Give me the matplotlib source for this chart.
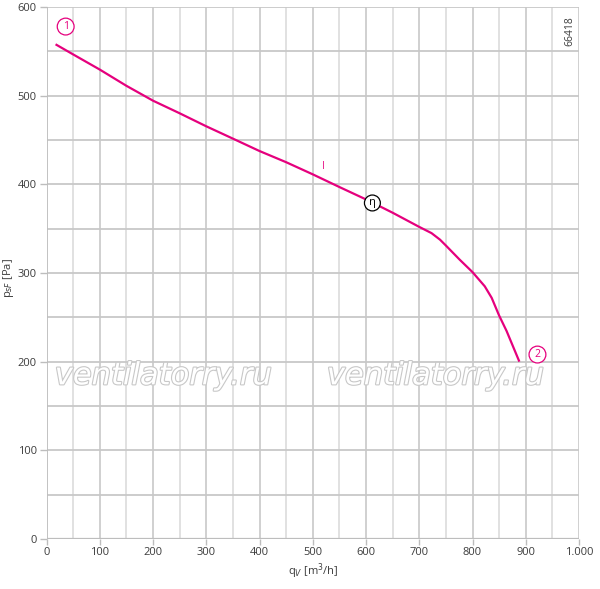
import matplotlib
matplotlib.use("Agg")
import matplotlib.pyplot as plt
import matplotlib.patheffects as pe
import numpy as np

# Data
flow = [17, 50, 100, 150, 200, 250, 300, 350, 400, 450, 500, 550, 600, 650,
        700, 723, 739, 750, 776, 800, 823, 836, 850, 864, 888]
pressure = [558, 546.6, 529.5, 511.2, 494.4, 480.2, 465.5, 451.6, 437.6, 425,
            411.3, 397, 383, 368, 352, 345, 337.6, 331, 315, 301, 285, 272,
            252, 234.6, 200]

x_ticks = [0, 100, 200, 300, 400, 500, 600, 700, 800, 900, 1000]
x_tick_labels = ["0", "100", "200", "300", "400", "500", "600", "700", "800", "900", "1.000"]
y_ticks = [0, 100, 200, 300, 400, 500, 600]
y_tick_labels = ["0", "100", "200", "300", "400", "500", "600"]

plt.rcParams['font.family'] = ['Open Sans', 'DejaVu Sans']

MAG = '#e5007d'
GRID = '#c8c8c8'
GRID_MINOR = '#dcdcdc'
TXT = '#3c3c3c'

fig = plt.figure(figsize=(6.0, 5.89), dpi=100)
ax = fig.add_axes([0.0775, 0.085, 0.8875, 0.903])

ax.set_xlim(0, 1000)
ax.set_ylim(0, 600)

# grid
for xv in np.arange(50, 1000, 100):
    ax.axvline(xv, color=GRID_MINOR, lw=1.2, zorder=0)
for xv in np.arange(100, 1001, 100):
    ax.axvline(xv, color=GRID, lw=1.2, zorder=0)
for yv in np.arange(50, 601, 50):
    ax.axhline(yv, color=GRID, lw=1.3, zorder=0)

for s in ax.spines.values():
    s.set_visible(False)
ax.axvline(0, color='#bdbdbd', lw=1.3, zorder=1)
ax.axhline(0, color='#bdbdbd', lw=1.6, zorder=1)

ax.set_xticks(x_ticks)
ax.set_xticklabels(x_tick_labels)
ax.set_yticks(y_ticks)
ax.set_yticklabels(y_tick_labels)
ax.tick_params(axis='both', colors='#bdbdbd', labelcolor=TXT, labelsize=8,
               length=5, width=1, direction='out', pad=2)
ax.tick_params(axis='x', length=4)

ax.set_xlabel(r"q$_V$ [m$^3$/h]", fontsize=8, color=TXT, labelpad=2)
ax.set_ylabel(r"p$_{sF}$ [Pa]", fontsize=8, color=TXT)
ax.yaxis.set_label_coords(-0.058, 0.49)

# watermark
for xc in [219, 730]:
    ax.text(xc, 184, "ventilatorry.ru", fontsize=22, style='italic',
            family=['DejaVu Sans'], color='white', ha='center', va='center',
            zorder=1.5,
            path_effects=[pe.withStroke(linewidth=1.6, foreground='#c8c8c8')])

# curve
ax.plot(flow, pressure, color=MAG, lw=1.6, zorder=3, solid_capstyle='butt',
        solid_joinstyle='round')

# annotations
ax.text(36, 578, "1", fontsize=7.5, color=MAG, ha='center', va='center', zorder=4,
        bbox=dict(boxstyle='circle,pad=0.28', fc='white', ec=MAG, lw=0.9))
ax.text(922, 208, "2", fontsize=7.5, color=MAG, ha='center', va='center', zorder=4,
        bbox=dict(boxstyle='circle,pad=0.28', fc='white', ec=MAG, lw=0.9))
ax.text(612, 379, "η", fontsize=8, color='black', ha='center', va='center', zorder=4,
        bbox=dict(boxstyle='circle,pad=0.22', fc='white', ec='black', lw=0.9))
ax.text(520, 420, "I", fontsize=7, color=MAG, ha='center', va='center', zorder=4)
ax.text(983, 573, "66418", fontsize=7.5, color=TXT, rotation=90,
        ha='center', va='center', zorder=4)

fig.savefig("out.png", dpi=100)
